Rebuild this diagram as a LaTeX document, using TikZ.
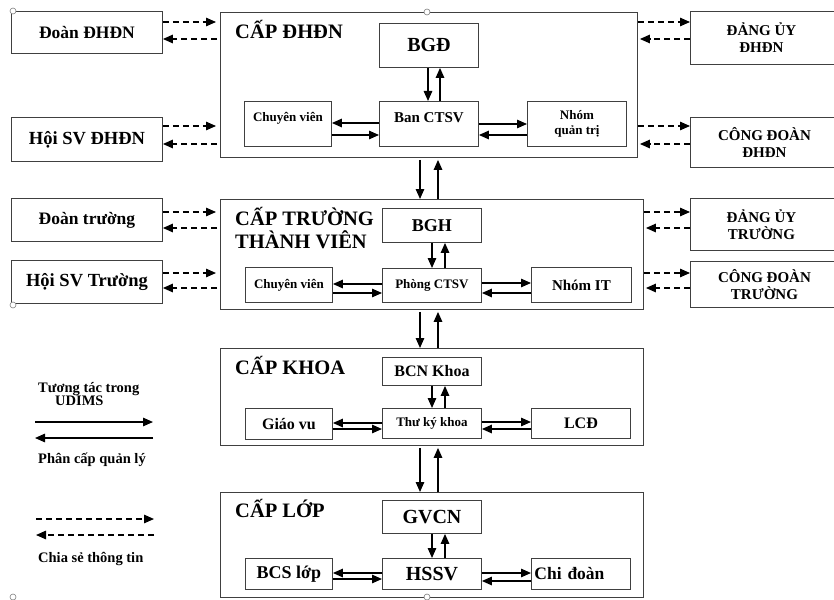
\documentclass[tikz,border=0pt]{standalone}
\usepackage{fontspec}
\setmainfont{Liberation Serif}
\usetikzlibrary{arrows.meta}
\definecolor{Edge}{HTML}{404040}
\definecolor{Handle}{HTML}{808080}
\newcommand{\txtsize}[2]{\fontsize{#1}{#2}\selectfont}

\begin{document}
\begin{tikzpicture}[x=1pt,y=-1pt,
      box/.style={draw=Edge,line width=0.9pt,inner sep=0pt,anchor=north west,
        align=center,font=\bfseries\txtsize{#1}{#1}},
      level/.style={draw=Edge,line width=0.9pt,inner sep=0pt,anchor=north west},
      outbox/.style={draw=Edge,line width=0.9pt,inner sep=0pt,anchor=north west,
        font=\bfseries\txtsize{15}{17}},
      wh/.style 2 args={minimum width=#1,minimum height=#2},
      title/.style={anchor=base west,inner sep=0pt,align=left,font=\bfseries\txtsize{20.5}{23}},
      note/.style={anchor=base west,inner sep=0pt,align=left,font=\bfseries\txtsize{14.5}{13}},
      arrow/.style={-{Triangle[length=10pt,width=8.5pt]},line width=1.35pt},
      share/.style={arrow,dash pattern=on 6pt off 4pt}
    ]
      \useasboundingbox (0,0) rectangle (834,599);
      \clip (0,0) rectangle (834,599);

      % cap DHDN
      \node[level,wh={417}{145}] (dhdn) at (220,12) {};
      \node[title] (dhdnTitle) at (235,38.5) {CẤP ĐHĐN};
      \node[box=20,wh={99}{44}] (bgd) at (379,23) {BGĐ};
      \node[box=15,wh={99}{45},text height=11pt,text depth=14pt] (banctsv) at (379,101) {Ban CTSV};
      \node[box=13,wh={87}{45},text height=10pt,text depth=14pt] (cvDhdn) at (244,101) {Chuyên viên};
      \node[box=13,wh={99}{45},font=\bfseries\txtsize{13}{15}] (nhomqt) at (527,101) {Nhóm\\quản trị};
      \draw[arrow] (bgd.south -| 428,0) -- (banctsv.north -| 428,0);
      \draw[arrow] (banctsv.north -| 440,0) -- (bgd.south -| 440,0);
      \draw[arrow] (banctsv.west |- 0,123) -- (cvDhdn.east |- 0,123);
      \draw[arrow] (cvDhdn.east |- 0,135) -- (banctsv.west |- 0,135);
      \draw[arrow] (banctsv.east |- 0,124) -- (nhomqt.west |- 0,124);
      \draw[arrow] (nhomqt.west |- 0,135) -- (banctsv.east |- 0,135);

      % cap truong thanh vien
      \node[level,wh={423}{110}] (truong) at (220,199) {};
      \node[title] (truongTitle) at (235,248) {CẤP TRƯỜNG\\THÀNH VIÊN};
      \node[box=18,wh={99}{34}] (bgh) at (382,208) {BGH};
      \node[box=13,wh={99}{34}] (phongctsv) at (382,268) {Phòng CTSV};
      \node[box=13,wh={87}{35}] (cvTruong) at (245,267) {Chuyên viên};
      \node[box=15,wh={100}{35}] (nhomit) at (531,267) {Nhóm IT};
      \draw[arrow] (bgh.south -| 432,0) -- (phongctsv.north -| 432,0);
      \draw[arrow] (phongctsv.north -| 445,0) -- (bgh.south -| 445,0);
      \draw[arrow] (phongctsv.west |- 0,284) -- (cvTruong.east |- 0,284);
      \draw[arrow] (cvTruong.east |- 0,293) -- (phongctsv.west |- 0,293);
      \draw[arrow] (phongctsv.east |- 0,283) -- (nhomit.west |- 0,283);
      \draw[arrow] (nhomit.west |- 0,293) -- (phongctsv.east |- 0,293);

      % cap khoa
      \node[level,wh={423}{97}] (khoa) at (220,348) {};
      \node[title] (khoaTitle) at (235,374) {CẤP KHOA};
      \node[box=16,wh={99}{28}] (bcnkhoa) at (382,357) {BCN Khoa};
      \node[box=13,wh={99}{30}] (thuky) at (382,408) {Thư ký khoa};
      \node[box=16,wh={87}{31}] (giaovu) at (245,408) {Giáo vu};
      \node[box=16,wh={99}{30}] (lcd) at (531,408) {LCĐ};
      \draw[arrow] (bcnkhoa.south -| 432,0) -- (thuky.north -| 432,0);
      \draw[arrow] (thuky.north -| 445,0) -- (bcnkhoa.south -| 445,0);
      \draw[arrow] (thuky.west |- 0,423) -- (giaovu.east |- 0,423);
      \draw[arrow] (giaovu.east |- 0,429) -- (thuky.west |- 0,429);
      \draw[arrow] (thuky.east |- 0,422) -- (lcd.west |- 0,422);
      \draw[arrow] (lcd.west |- 0,429) -- (thuky.east |- 0,429);

      % cap lop
      \node[level,wh={423}{105}] (lop) at (220,492) {};
      \node[title] (lopTitle) at (235,517) {CẤP LỚP};
      \node[box=20,wh={99}{33}] (gvcn) at (382,500) {GVCN};
      \node[box=20,wh={99}{31}] (hssv) at (382,558) {HSSV};
      \node[box=18,wh={87}{31}] (bcslop) at (245,558) {BCS lớp};
      \node[box=17.5,wh={99}{31},text width=93pt,align=left] (chidoan) at (531,558) {Chi đoàn};
      \draw[arrow] (gvcn.south -| 432,0) -- (hssv.north -| 432,0);
      \draw[arrow] (hssv.north -| 445,0) -- (gvcn.south -| 445,0);
      \draw[arrow] (hssv.west |- 0,573) -- (bcslop.east |- 0,573);
      \draw[arrow] (bcslop.east |- 0,579) -- (hssv.west |- 0,579);
      \draw[arrow] (hssv.east |- 0,573) -- (chidoan.west |- 0,573);
      \draw[arrow] (chidoan.west |- 0,581) -- (hssv.east |- 0,581);

      % between levels
      \foreach \a/\b in {dhdn/truong,truong/khoa,khoa/lop} {
        \draw[arrow,shorten <=2pt] (\a.south -| 420,0) -- (\b.north -| 420,0);
        \draw[arrow,shorten >=2pt] (\b.north -| 438,0) -- (\a.south -| 438,0);
      }

      % doan, hoi SV
      \node[box=17.5,wh={151}{42}] (doanDhdn) at (11,11) {Đoàn ĐHĐN};
      \node[box=18.5,wh={151}{44}] (hoiDhdn) at (11,117) {Hội SV ĐHĐN};
      \node[box=17.5,wh={151}{43}] (doanTruong) at (11,198) {Đoàn trường};
      \node[box=18.5,wh={151}{43}] (hoiTruong) at (11,260) {Hội SV Trường};
      \foreach \n/\l/\ya/\yb in {doanDhdn/dhdn/22/39,hoiDhdn/dhdn/126/144,
          doanTruong/truong/212/228,hoiTruong/truong/273/288} {
        \draw[share,shorten >=4pt] (\n.east |- 0,\ya) -- (\l.west |- 0,\ya);
        \draw[share,shorten <=3pt] (\l.west |- 0,\yb) -- (\n.east |- 0,\yb);
      }

      % dang uy, cong doan
      \node[outbox,wh={180}{53}] (dangDhdn) at (690,11)
        {\makebox[180pt][l]{\parbox{142pt}{\centering ĐẢNG ỦY\\ĐHĐN}}};
      \node[outbox,wh={180}{50}] (congdoanDhdn) at (690,117)
        {\makebox[180pt][l]{\parbox{148pt}{\centering CÔNG ĐOÀN\\ĐHĐN}}};
      \node[outbox,wh={180}{52}] (dangTruong) at (690,198)
        {\makebox[180pt][l]{\parbox{142pt}{\centering ĐẢNG ỦY\\TRƯỜNG}}};
      \node[outbox,wh={180}{46}] (congdoanTruong) at (690,261)
        {\makebox[180pt][l]{\parbox{148pt}{\centering CÔNG ĐOÀN\\TRƯỜNG}}};
      \foreach \n/\l/\ya/\yb in {dangDhdn/dhdn/22/39,congdoanDhdn/dhdn/126/144,
          dangTruong/truong/212/228,congdoanTruong/truong/273/288} {
        \draw[share] (\l.east |- 0,\ya) -- (\n.west |- 0,\ya);
        \draw[share,shorten >=2pt] (\n.west |- 0,\yb) -- (\l.east |- 0,\yb);
      }

      % legend
      \node[note] (legUdims) at (38,405) {Tương tác trong\\\hspace*{17pt}UDIMS};
      \coordinate (solidA) at (35,422);
      \coordinate (solidB) at (153,422);
      \coordinate (solidC) at (153,438);
      \coordinate (solidD) at (35,438);
      \draw[arrow] (solidA) -- (solidB);
      \draw[arrow] (solidC) -- (solidD);
      \node[note] (legManage) at (38,463) {Phân cấp quản lý};
      \coordinate (shareA) at (36,519);
      \coordinate (shareB) at (154,519);
      \coordinate (shareC) at (154,535);
      \coordinate (shareD) at (36,535);
      \draw[share] (shareA) -- (shareB);
      \draw[share] (shareC) -- (shareD);
      \node[note] (legShare) at (38,562) {Chia sẻ thông tin};

      % handles
      \foreach \p in {(13,11),(427,12),(13,305),(13,597),(427,597)}
        \draw[Handle,fill=white,line width=0.6pt] \p circle[radius=3];
    \end{tikzpicture}
\end{document}
